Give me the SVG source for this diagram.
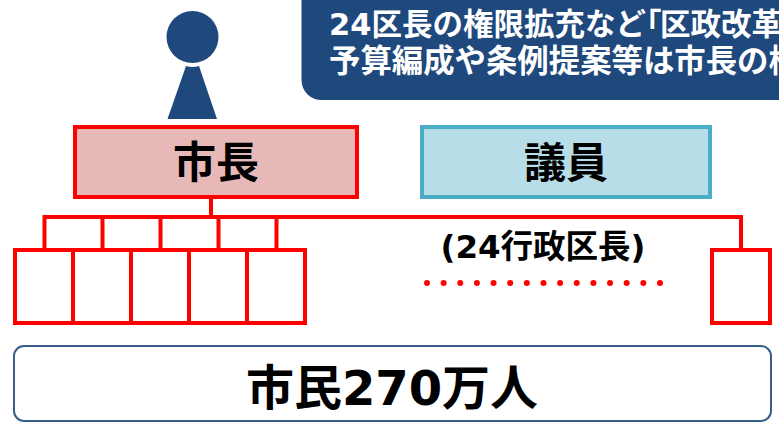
<svg xmlns="http://www.w3.org/2000/svg" width="779" height="425" viewBox="0 0 779 425">
<style>
text{font-family:"DejaVu Sans","Noto Sans CJK JP",sans-serif;font-weight:700}
.k{fill:#000}
.w{fill:#fff;font-size:30.5px}
.ward{fill:#fff;stroke:#f00;stroke-width:4}
.c{fill:none;stroke:#f00;stroke-width:4}
</style>
<rect width="779" height="425" fill="#fff"/>
<g id="header"><path d="M301.500 -10H790V100H321.500A20 20 0 0 1 301.500 80Z" fill="#1f497d"/>
<text class="w" x="329" y="35">24区長の権限拡充など<tspan x="631">「</tspan><tspan x="660">区政改革</tspan></text>
<text class="w" x="329" y="72" style="font-size:31.400px">予算編成や条例提案等は市長の権</text></g>
<g id="person" fill="#1f497d"><circle cx="192.500" cy="37" r="26"/><path d="M186 66Q192.500 68 199 66L217 119H167.500Z"/></g>
<g id="connectors" class="c">
<path class="c" d="M211 198V217M44.500 250V217H741V250M102.500 217V250M160.500 217V250M218.500 217V250M276.500 217V250"/>
</g>
<g id="mayor"><rect x="75" y="127" width="282" height="70" fill="#e6b9b8" stroke="#f00" stroke-width="4"/>
<text class="k" x="216" y="178" font-size="43" text-anchor="middle">市長</text></g>
<g id="council"><rect x="422" y="127" width="288" height="70" fill="#b7dde8" stroke="#4bacc6" stroke-width="4"/>
<text class="k" x="566" y="178" font-size="42" text-anchor="middle">議員</text></g>
<g id="ward1"><rect class="ward" x="15" y="250" width="58" height="73"/></g>
<g id="ward2"><rect class="ward" x="73" y="250" width="58" height="73"/></g>
<g id="ward3"><rect class="ward" x="131" y="250" width="58" height="73"/></g>
<g id="ward4"><rect class="ward" x="189" y="250" width="58" height="73"/></g>
<g id="ward5"><rect class="ward" x="247" y="250" width="58" height="73"/></g>
<g id="ward24"><rect class="ward" x="712" y="250" width="58" height="73"/></g>
<g id="ward-label"><text class="k" x="543" y="258" font-size="32.500" text-anchor="middle">(24行政区長)</text>
<path d="M427 283H661" fill="none" stroke="#f00" stroke-width="6" stroke-linecap="round" stroke-dasharray="0 16.640"/></g>
<g id="citizens"><rect x="14" y="346" width="757" height="75" rx="10" fill="#fff" stroke="#385d8a" stroke-width="2"/>
<text class="k" x="392" y="405" font-size="48" text-anchor="middle">市民270万人</text></g>
</svg>
